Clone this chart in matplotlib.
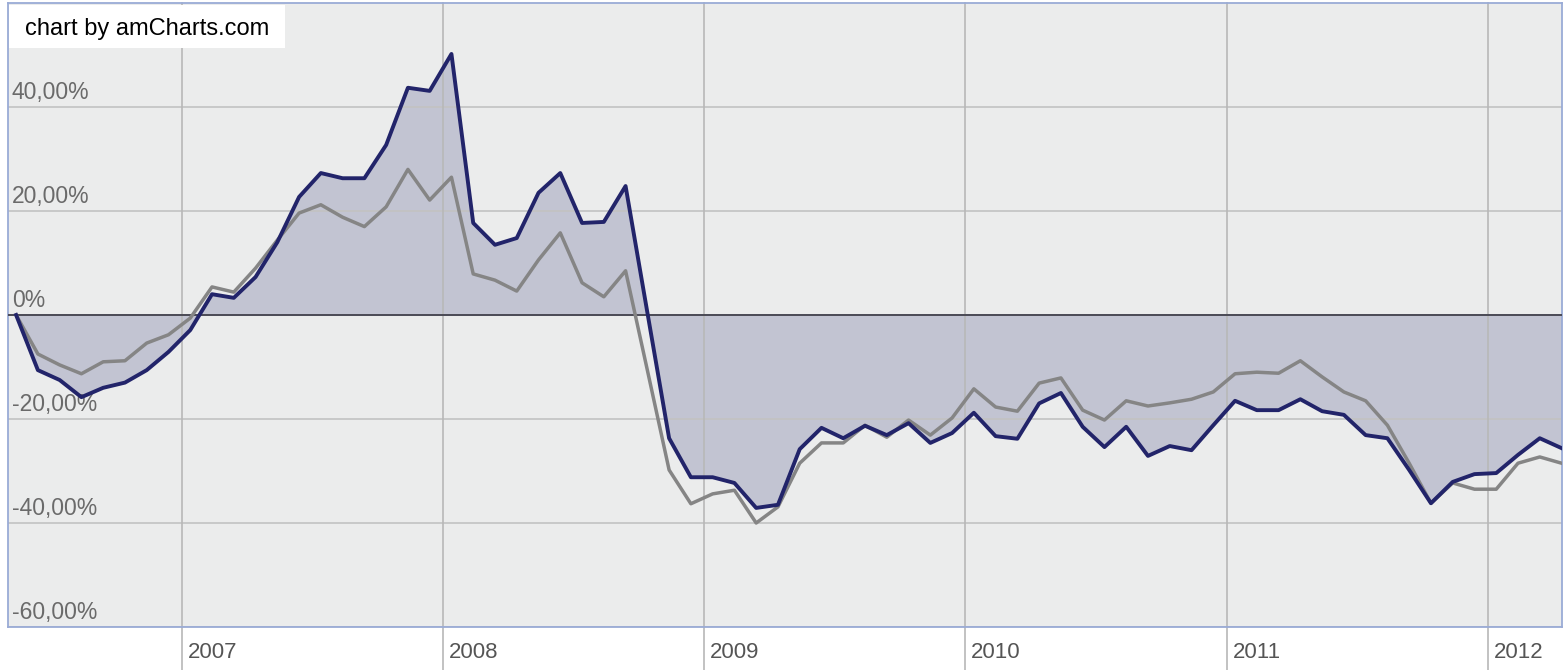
import numpy as np
import matplotlib
matplotlib.use("Agg")
from matplotlib import pyplot as plt
from matplotlib.patches import Rectangle
from matplotlib.transforms import ScaledTranslation

#%% Data (monthly relative performance, %)
fund = [0.0, -10.6, -12.5, -15.8, -14.0, -13.0, -10.6, -7.1, -2.9, 4.0,
        3.3, 7.3, 14.0, 22.7, 27.3, 26.3, 26.3, 32.7, 43.7, 43.1,
        50.2, 17.7, 13.5, 14.8, 23.5, 27.3, 17.7, 17.9, 24.8, 0.5,
        -23.7, -31.2, -31.2, -32.3, -37.1, -36.5, -25.8, -21.7, -23.7, -21.3,
        -23.1, -20.8, -24.6, -22.7, -18.8, -23.3, -23.8, -17.0, -15.0, -21.5,
        -25.4, -21.5, -27.1, -25.2, -26.0, -21.2, -16.5, -18.3, -18.3, -16.2,
        -18.5, -19.2, -23.1, -23.7, -29.8, -36.2, -32.1, -30.6, -30.4, -26.9,
        -23.7, -25.6]
benchmark = [0.0, -7.5, -9.6, -11.3, -9.0, -8.8, -5.4, -3.8, -0.6, 5.4,
             4.4, 9.0, 14.4, 19.6, 21.2, 18.8, 17.0, 20.8, 28.0, 22.1,
             26.5, 7.9, 6.7, 4.6, 10.6, 15.8, 6.2, 3.5, 8.5, -10.6,
             -29.8, -36.3, -34.4, -33.7, -40.0, -36.9, -28.5, -24.6, -24.6, -21.2,
             -23.5, -20.2, -23.1, -19.8, -14.2, -17.7, -18.5, -13.1, -12.1, -18.3,
             -20.2, -16.5, -17.5, -16.9, -16.2, -14.8, -11.3, -11.0, -11.2, -8.8,
             -11.9, -14.8, -16.5, -21.2, -28.5, -36.2, -32.3, -33.5, -33.5, -28.5,
             -27.3, -28.5]
years = [2007, 2008, 2009, 2010, 2011, 2012]
y_ticks = [-60, -40, -20, 0, 20, 40]
y_labels = ["-60,00%", "-40,00%", "-20,00%", "0%", "20,00%", "40,00%"]

# first point sits a bit after early May 2006, one point per month
start = 2006.366
x = start + np.arange(len(fund)) / 12

#%% Figure
W, H = 1565, 670
plt.rcParams['font.family'] = ['Liberation Sans', 'DejaVu Sans']
fig = plt.figure(figsize=(W / 100, H / 100), dpi=100)
fig.patch.set_facecolor('white')
ax = fig.add_axes([7.5 / W, (H - 627) / H, 1554 / W, 624 / H])
ax.set_facecolor('#EBECEC')
ax.set_xlim(2006.333, 2012.2825)
ax.set_ylim(-60, 60)

navy = '#22246A'
grey = '#858585'

ax.fill_between(x, fund, 0, color=navy, alpha=0.2, linewidth=0, zorder=1)

# grid
for v in y_ticks:
    ax.axhline(v, color='#C2C2C2', lw=1.2, zorder=2)
ax.axhline(0, color='#4A4A55', lw=1.4, zorder=3)
for yr in years:
    ax.axvline(yr, ymin=-43 / 624, ymax=1, color='#B8B8B8', lw=1.2,
               clip_on=False, zorder=2)

ax.plot(x, benchmark, color=grey, lw=2.5, zorder=4)
ax.plot(x, fund, color=navy, lw=2.8, zorder=5)

# axes styling
for sp in ax.spines.values():
    sp.set_color('#9AABD6')
    sp.set_linewidth(1.3)

ax.set_xticks(years, [str(y) for y in years])
ax.tick_params(axis='x', length=0, pad=11, labelsize=16, labelcolor='#555555')
for lbl in ax.get_xticklabels():
    lbl.set_horizontalalignment('left')
    lbl.set_transform(lbl.get_transform() + ScaledTranslation(6 / 100, 0, fig.dpi_scale_trans))

ax.set_yticks(y_ticks, y_labels)
ax.tick_params(axis='y', length=0, pad=-3, labelsize=16.5, labelcolor='#6A6A6A')
for lbl in ax.get_yticklabels():
    lbl.set_horizontalalignment('left')
    lbl.set_verticalalignment('bottom')
    lbl.set_transform(lbl.get_transform() + ScaledTranslation(0, 3 / 100, fig.dpi_scale_trans))

# watermark box
fig.add_artist(Rectangle((9 / W, 1 - 48 / H), 276 / W, 43 / H, transform=fig.transFigure,
                         facecolor='white', edgecolor='none', zorder=10))
fig.text(25 / W, 1 - 29 / H, "chart by amCharts.com", fontsize=17, color='black',
         va='center', ha='left', zorder=11)

fig.savefig('out.png', dpi=100)
